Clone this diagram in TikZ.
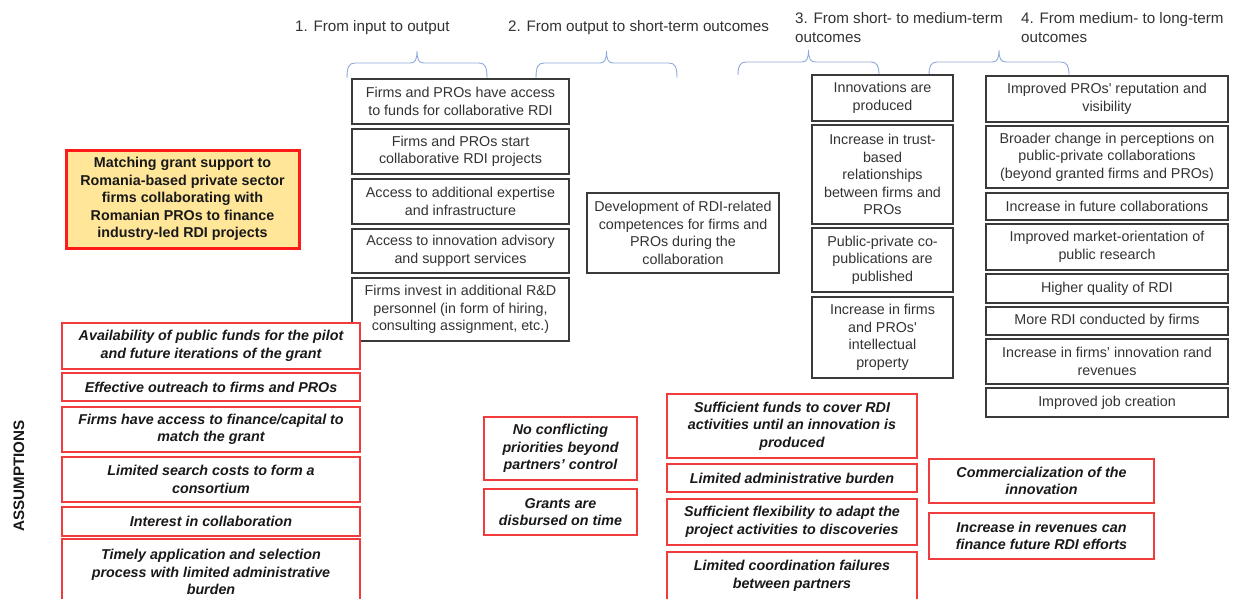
\documentclass[tikz,border=0pt]{standalone}
\usepackage{fontspec}
\setmainfont{Liberation Sans}
\definecolor{boxgray}{HTML}{3A3A3A}
\definecolor{textgray}{HTML}{333333}
\definecolor{assumred}{HTML}{F03C3C}
\definecolor{goalred}{HTML}{FF1A1A}
\definecolor{goalfill}{HTML}{FFE699}
\definecolor{braceblue}{HTML}{8EAADB}
% box from its corners: name, style, x1, y1, x2, y2, text
\newcommand\mkbox[7]{%
  \node[#2, minimum width={#5-#3}, minimum height={#6-#4}] (#1)
    at ({(#3+#5)/2},{(#4+#6)/2}) {#7};}
% curly brace opening downwards: x-left, x-right, bar y, end y, tip y
\newcommand\mkbrace[5]{%
  \draw[brace] ({#1},{#4}) .. controls ({#1},{#3+4}) and ({#1+2},{#3}) .. ({#1+8},{#3})
    -- ({(#1+#2)/2-7},{#3}) .. controls ({(#1+#2)/2-2},{#3}) and ({(#1+#2)/2},{#3-3}) .. ({(#1+#2)/2},{#5})
    .. controls ({(#1+#2)/2},{#3-3}) and ({(#1+#2)/2+2},{#3}) .. ({(#1+#2)/2+7},{#3})
    -- ({#2-8},{#3}) .. controls ({#2-2},{#3}) and ({#2},{#3+4}) .. ({#2},{#4});}
\begin{document}
\begin{tikzpicture}[x=1pt,y=-1pt,
  base/.style={draw, inner sep=0pt, align=center,
    font=\fontsize{14.3}{17.5}\selectfont},
  outbox/.style={base, draw=boxgray, line width=1.2pt, text=textgray, fill=white},
  assume/.style={base, draw=assumred, line width=1.4pt, text=black!90, fill=white,
    font=\fontsize{14.3}{17.5}\selectfont\bfseries\itshape},
  goal/.style={base, draw=goalred, line width=3pt, fill=goalfill, text=black!90,
    font=\fontsize{14.3}{17.5}\selectfont\bfseries},
  header/.style={inner sep=0pt, anchor=north west, align=left, text=textgray,
    font=\fontsize{15.2}{19.3}\selectfont},
  brace/.style={draw=braceblue, line width=0.9pt}
]
\useasboundingbox (0,0) rectangle (1234,598);
\clip (0,0) rectangle (1234,598);
\fill[white] (0,0) rectangle (1234,598);

% stage headings and their braces
\node[header] (h1) at (295,20) {1. From input to output};
\node[header] (h2) at (508,20) {2. From output to short-term outcomes};
\node[header] (h3) at (795,12) {3. From short- to medium-term\\outcomes};
\node[header] (h4) at (1021,12) {4. From medium- to long-term\\outcomes};
\mkbrace{347}{487}{63}{78}{51}
\mkbrace{536}{677}{63}{78}{51}
\mkbrace{738}{879}{62}{75}{50}
\mkbrace{929}{1069}{62}{75}{50}

% intervention
\mkbox{g}{goal}{66}{150}{299}{248}{Matching grant support to\\Romania-based private sector\\firms collaborating with\\Romanian PROs to finance\\industry-led RDI projects}

% outputs
\mkbox{o1}{outbox}{352}{79}{569}{124}{Firms and PROs have access\\to funds for collaborative RDI}
\mkbox{o2}{outbox}{352}{129}{569}{174}{Firms and PROs start\\collaborative RDI projects}
\mkbox{o3}{outbox}{352}{179}{569}{224}{Access to additional expertise\\and infrastructure}
\mkbox{o4}{outbox}{352}{229}{569}{273}{Access to innovation advisory\\and support services}
\mkbox{o5}{outbox}{352}{278}{569}{341}{Firms invest in additional R\&D\\personnel (in form of hiring,\\consulting assignment, etc.)}

% short-term outcome
\mkbox{s1}{outbox}{587}{193}{779}{273}{Development of RDI-related\\competences for firms and\\PROs during the\\collaboration}

% medium-term outcomes
\mkbox{m1}{outbox}{812}{75}{953}{121}{Innovations are\\produced}
\mkbox{m2}{outbox}{812}{125}{953}{224}{Increase in trust-\\based\\relationships\\between firms and\\PROs}
\mkbox{m3}{outbox}{812}{228}{953}{292}{Public-private co-\\publications are\\published}
\mkbox{m4}{outbox}{812}{297}{953}{378}{Increase in firms\\and PROs\textquotesingle\\intellectual\\property}

% long-term outcomes
\mkbox{l1}{outbox}{986}{76}{1228}{122}{Improved PROs\textquotesingle\ reputation and\\visibility}
\mkbox{l2}{outbox}{986}{126}{1228}{188}{Broader change in perceptions on\\public-private collaborations\\(beyond granted firms and PROs)}
\mkbox{l3}{outbox}{986}{193}{1228}{220}{Increase in future collaborations}
\mkbox{l4}{outbox}{986}{224}{1228}{270}{Improved market-orientation of\\public research}
\mkbox{l5}{outbox}{986}{274}{1228}{303}{Higher quality of RDI}
\mkbox{l6}{outbox}{986}{307}{1228}{335}{More RDI conducted by firms}
\mkbox{l7}{outbox}{986}{339}{1228}{384}{Increase in firms’ innovation rand\\revenues}
\mkbox{l8}{outbox}{986}{388}{1228}{417}{Improved job creation}

% assumptions
\node[rotate=90, inner sep=0pt, text=black!90,
  font=\fontsize{15.2}{18}\selectfont\bfseries] (asm) at (19,476) {ASSUMPTIONS};

\mkbox{a1}{assume}{62}{323}{360}{369}{Availability of public funds for the pilot\\and future iterations of the grant}
\mkbox{a2}{assume}{62}{373}{360}{401}{Effective outreach to firms and PROs}
\mkbox{a3}{assume}{62}{407}{360}{452}{Firms have access to finance/capital to\\match the grant}
\mkbox{a4}{assume}{62}{457}{360}{502}{Limited search costs to form a\\consortium}
\mkbox{a5}{assume}{62}{507}{360}{536}{Interest in collaboration}
\mkbox{a6}{assume}{62}{539}{360}{605}{Timely application and selection\\process with limited administrative\\burden}

\mkbox{b1}{assume}{484}{417}{637}{480}{No conflicting\\priorities beyond\\partners’ control}
\mkbox{b2}{assume}{484}{489}{637}{535}{Grants are\\disbursed on time}

\mkbox{c1}{assume}{667}{394}{917}{458}{Sufficient funds to cover RDI\\activities until an innovation is\\produced}
\mkbox{c2}{assume}{667}{464}{917}{492}{Limited administrative burden}
\mkbox{c3}{assume}{667}{499}{917}{545}{Sufficient flexibility to adapt the\\project activities to discoveries}
\mkbox{c4}{assume}{667}{552}{917}{600}{Limited coordination failures\\between partners}

\mkbox{d1}{assume}{929}{459}{1154}{503}{Commercialization of the\\innovation}
\mkbox{d2}{assume}{929}{513}{1154}{559}{Increase in revenues can\\finance future RDI efforts}
\end{tikzpicture}
\end{document}
